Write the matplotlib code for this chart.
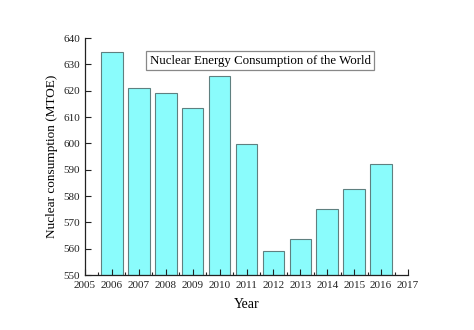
import matplotlib
matplotlib.use("Agg")
from matplotlib import pyplot as plt
from matplotlib.ticker import MultipleLocator

years = [2006, 2007, 2008, 2009, 2010, 2011, 2012, 2013, 2014, 2015, 2016]
consumption = [634.7, 621.2, 619.2, 613.4, 625.7, 599.9, 559.1, 563.8, 574.9, 582.6, 592.0]
xticks = list(range(2005, 2018))
yticks = list(range(550, 641, 10))

plt.rcParams['font.family'] = ['Liberation Serif', 'DejaVu Serif']

fig = plt.figure(figsize=(4.74, 3.30), dpi=100)
ax = fig.add_axes([85 / 474, 1 - 275 / 330, (408 - 85) / 474, (275 - 38) / 330])

ax.bar(years, [c - 550 for c in consumption], bottom=550, width=0.8,
       color='#8afcfc', edgecolor='#5f8080', linewidth=0.8)

ax.set_xlim(2005, 2017)
ax.set_ylim(550, 640)
ax.set_xticks(xticks)
ax.set_yticks(yticks)
ax.xaxis.set_minor_locator(MultipleLocator(0.5))
ax.tick_params(which='both', direction='in', labelsize=8, colors='#222222')
ax.tick_params(which='major', length=4, width=0.8)
ax.tick_params(which='minor', length=2, width=0.8)
ax.tick_params(axis='x', pad=4)

ax.spines['top'].set_visible(False)
ax.spines['right'].set_visible(False)
for s in ['left', 'bottom']:
    ax.spines[s].set_linewidth(0.9)
    ax.spines[s].set_color('#222222')

ax.set_xlabel('Year', fontsize=10, labelpad=6)
ax.set_ylabel('Nuclear consumption (MTOE)', fontsize=9.5, labelpad=4)

ax.text(0.2, 0.905, 'Nuclear Energy Consumption of the World', transform=ax.transAxes,
        fontsize=9.3, va='center', ha='left',
        bbox=dict(boxstyle='square,pad=0.3', facecolor='white', edgecolor='#888888', linewidth=0.9))

fig.savefig('out.png', dpi=100)
